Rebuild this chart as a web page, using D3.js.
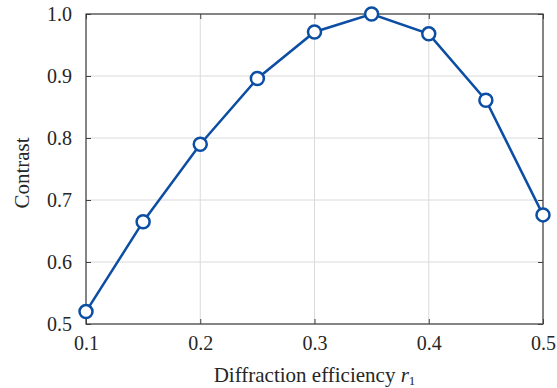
<!DOCTYPE html>
<html>
<head>
<meta charset="utf-8">
<script src="https://cdn.jsdelivr.net/npm/d3@7"></script>
<style>
body { margin: 0; background: #fff; }
svg text { font-family: "Liberation Serif", "Times New Roman", serif !important; fill: #262626; }
</style>
</head>
<body>
<svg id="chart" width="557" height="388"></svg>
<script>
var efficiency = [0.1, 0.15, 0.2, 0.25, 0.3, 0.35, 0.4, 0.45, 0.5];
var contrast = [0.52, 0.665, 0.79, 0.896, 0.971, 1.0, 0.968, 0.861, 0.676];
var xTicks = [0.1, 0.2, 0.3, 0.4, 0.5];
var yTicks = [0.5, 0.6, 0.7, 0.8, 0.9, 1.0];

var svg = d3.select("#chart"),
	margin = {top: 14, right: 14, bottom: 64, left: 86},
	width = 557 - margin.left - margin.right,
	height = 388 - margin.top - margin.bottom;

var x = d3.scaleLinear().domain([0.1, 0.5]).range([0, width]);
var y = d3.scaleLinear().domain([0.5, 1.0]).range([height, 0]);

var g = svg.append("g")
	.attr("transform", "translate(" + margin.left + "," + margin.top + ")");

// grid
g.selectAll(".gx").data(xTicks).enter().append("line")
	.attr("x1", d => x(d)).attr("x2", d => x(d))
	.attr("y1", 0).attr("y2", height)
	.attr("stroke", "#dadada").attr("stroke-width", 1);
g.selectAll(".gy").data(yTicks).enter().append("line")
	.attr("y1", d => y(d)).attr("y2", d => y(d))
	.attr("x1", 0).attr("x2", width)
	.attr("stroke", "#dadada").attr("stroke-width", 1);

// axes with inward ticks
function style(a) {
	a.attr("font-family", null).attr("font-size", null);
	a.select(".domain").remove();
	a.selectAll("line").attr("stroke", "#404040");
	a.selectAll("text").style("font-size", "20px").attr("fill", "#262626");
}
g.append("g").attr("transform", "translate(0," + height + ")")
	.call(d3.axisBottom(x).tickValues(xTicks).tickFormat(d3.format(".1f")).tickSizeInner(-5).tickPadding(12))
	.call(style);
g.append("g")
	.call(d3.axisTop(x).tickValues(xTicks).tickFormat("").tickSizeInner(-5))
	.call(style);
g.append("g")
	.call(d3.axisLeft(y).tickValues(yTicks).tickFormat(d3.format(".1f")).tickSizeInner(-5).tickPadding(14))
	.call(style);
g.append("g").attr("transform", "translate(" + width + ",0)")
	.call(d3.axisRight(y).tickValues(yTicks).tickFormat("").tickSizeInner(-5))
	.call(style);

g.append("rect")
	.attr("width", width).attr("height", height)
	.attr("fill", "none").attr("stroke", "#404040").attr("stroke-width", 1.2);

// data line
var pts = efficiency.map((e, i) => [e, contrast[i]]);
g.append("path")
	.datum(pts)
	.attr("fill", "none")
	.attr("stroke", "#0c4ea3")
	.attr("stroke-width", 2.5)
	.attr("d", d3.line().x(d => x(d[0])).y(d => y(d[1])));

g.selectAll(".pt").data(pts).enter().append("circle")
	.attr("cx", d => x(d[0])).attr("cy", d => y(d[1]))
	.attr("r", 6.5)
	.attr("fill", "#fff")
	.attr("stroke", "#0c4ea3")
	.attr("stroke-width", 2.5);

// labels
var xl = svg.append("text")
	.attr("x", margin.left + width / 2).attr("y", 382)
	.attr("text-anchor", "middle").style("font-size", "21px");
xl.append("tspan").text("Diffraction efficiency ");
xl.append("tspan").attr("font-style", "italic").text("r");
xl.append("tspan").style("font-size", "13px").attr("dy", 3).text("1");

svg.append("text")
	.attr("transform", "translate(29," + (margin.top + height / 2 + 4) + ") rotate(-90)")
	.attr("text-anchor", "middle").style("font-size", "21px")
	.text("Contrast");
</script>
</body>
</html>
